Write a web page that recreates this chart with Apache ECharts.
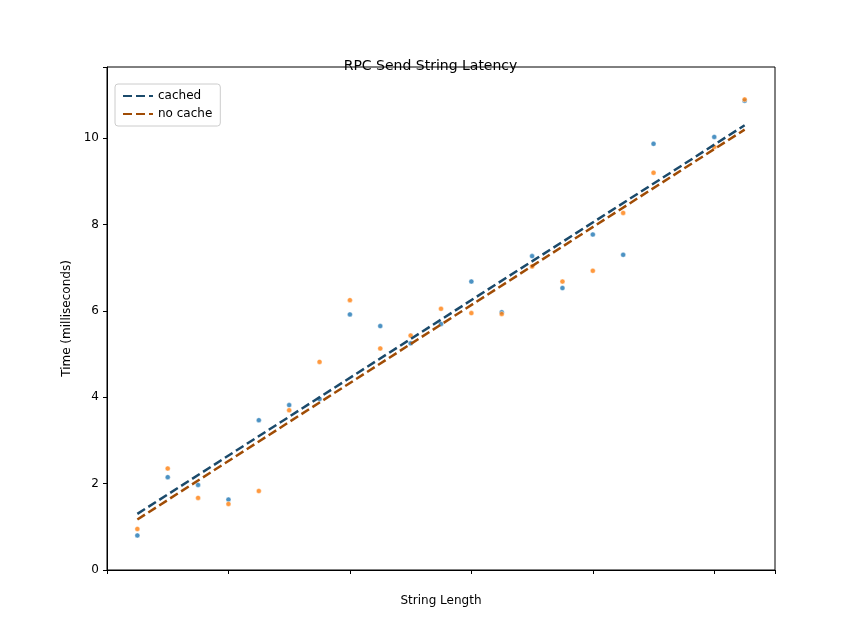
<!DOCTYPE html>
<html>
<head>
<meta charset="utf-8">
<script src="https://cdn.jsdelivr.net/npm/echarts@6/dist/echarts.min.js"></script>
<style>html,body{margin:0;padding:0;background:#fff}#chart{width:861px;height:641px}</style>
</head>
<body>
<div id="chart"></div>
<script>
var lengths = [0,50,100,150,200,250,300,350,400,450,500,550,600,650,700,750,800,850,950,1000];
var cachedTimes = [0.8,2.15,1.97,1.63,3.47,3.82,3.96,5.92,5.65,5.25,5.7,6.68,5.97,7.27,6.53,7.77,7.3,9.87,10.03,10.87];
var noCacheTimes = [0.95,2.35,1.67,1.53,1.83,3.7,4.82,6.25,5.13,5.43,6.05,5.95,5.93,7.03,6.68,6.93,8.27,9.2,9.8,10.9];
var cachedFit = [[0,1.3],[1000,10.3]];
var noCacheFit = [[0,1.17],[1000,10.2]];

function pairs(xs, ys){
	var out = [];
	for (var i = 0; i < xs.length; i++) out.push([xs[i], ys[i]]);
	return out;
}
var chart = echarts.init(document.getElementById('chart'));
var axisCommon = {
	axisLine: {show: true, onZero: false, lineStyle: {color: '#000'}},
	axisTick: {show: true, length: 4, lineStyle: {color: '#000'}},
	axisLabel: {color: '#000', fontSize: 12, fontFamily: 'DejaVu Sans'},
	splitLine: {show: false},
	nameLocation: 'middle',
	nameTextStyle: {color: '#000', fontSize: 12, fontFamily: 'DejaVu Sans'}
};
chart.setOption({
	animation: false,
	title: {text: 'RPC Send String Latency', left: 'center', top: 54,
		textStyle: {fontSize: 14, fontWeight: 'normal', color: '#000', fontFamily: 'DejaVu Sans'}},
	grid: {left: 107, right: 86, top: 67, bottom: 71, show: true, borderColor: '#000', borderWidth: 1},
	legend: {
		left: 115, top: 84, orient: 'vertical', itemGap: 6, itemWidth: 30, itemHeight: 10,
		borderColor: '#ccc', borderWidth: 1, borderRadius: 3, padding: [6, 8],
		textStyle: {fontSize: 12, color: '#000', fontFamily: 'DejaVu Sans'},
		data: [{name: 'cached', icon: 'path://M0,4h9v2h-9zM13,4h9v2h-9zM26,4h4v2h-4z'},
		       {name: 'no cache', icon: 'path://M0,4h9v2h-9zM13,4h9v2h-9zM26,4h4v2h-4z'}]
	},
	xAxis: Object.assign({type: 'value', min: -50, max: 1050, interval: 200, name: 'String Length', nameGap: 25,
		axisLabel: Object.assign({}, axisCommon.axisLabel, {
			formatter: function(v){ return (v >= 0 && v <= 1000 && v % 200 === 0) ? v : ''; }})
	}, {axisLine: axisCommon.axisLine, axisTick: axisCommon.axisTick, splitLine: axisCommon.splitLine,
		nameLocation: 'middle', nameTextStyle: axisCommon.nameTextStyle}),
	yAxis: Object.assign({}, axisCommon, {type: 'value', min: 0, max: 11.65, interval: 2,
		name: 'Time (milliseconds)', nameGap: 32,
		axisLabel: Object.assign({}, axisCommon.axisLabel, {
			formatter: function(v){ return v % 2 === 0 ? v : ''; }})}),
	series: [
		{name: 'cached', type: 'line', data: cachedFit, symbol: 'none', color: '#1b4a6b',
			lineStyle: {width: 2.5, type: [9, 4], color: '#1b4a6b'}, z: 3},
		{name: 'no cache', type: 'line', data: noCacheFit, symbol: 'none', color: '#a04c05',
			lineStyle: {width: 2.5, type: [9, 4], color: '#a04c05'}, z: 3},
		{name: 'cachedPts', type: 'scatter', data: pairs(lengths, cachedTimes), symbolSize: 5,
			itemStyle: {color: '#1f77b4', borderColor: '#fff', borderWidth: 0.5}, z: 2},
		{name: 'noCachePts', type: 'scatter', data: pairs(lengths, noCacheTimes), symbolSize: 5,
			itemStyle: {color: '#ff7f0e', borderColor: '#fff', borderWidth: 0.5}, z: 2}
	]
});
</script>
</body>
</html>
